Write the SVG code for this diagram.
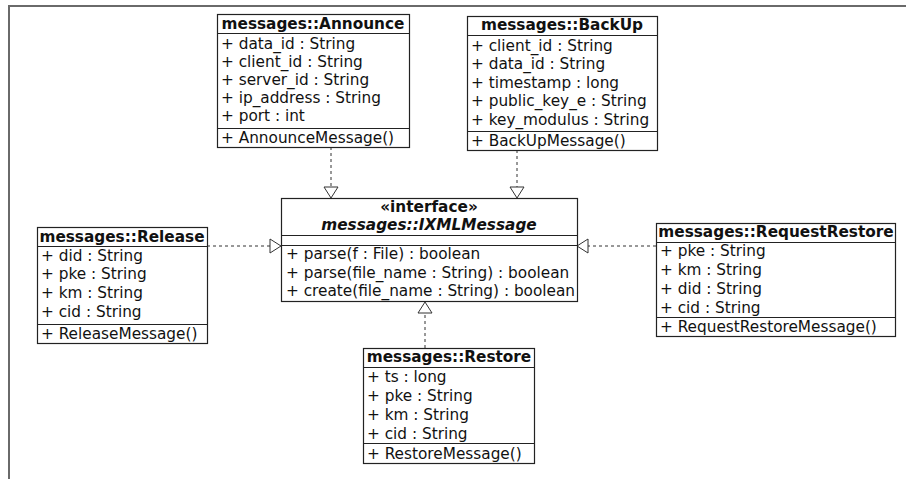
<svg xmlns="http://www.w3.org/2000/svg" width="906" height="479" viewBox="0 0 906 479">
  <style>
    .box { fill: #ffffff; stroke: #222222; stroke-width: 1.2; }
    .sep { stroke: #222222; stroke-width: 1.2; }
    text { font-family: "DejaVu Sans", "Liberation Sans", sans-serif; font-size: 15.3px; fill: #111111; }
    .title { font-weight: bold; text-anchor: middle; }
    .ital { font-style: italic; }
    .dep { fill: none; stroke: #333333; stroke-width: 1; stroke-dasharray: 3 3; }
    .head { fill: #ffffff; stroke: #333333; stroke-width: 1; }
    .frame { fill: none; stroke: #6a6a6a; stroke-width: 2; }
  </style>

  <rect x="0" y="0" width="906" height="479" fill="#ffffff"/>
  <polyline class="frame" points="9,479 9,6 906,6"/>

  <!-- realization connectors -->
  <g id="connectors">
    <line class="dep" x1="331" y1="147" x2="331" y2="187"/>
    <polygon class="head" points="331,198 324,187 338,187"/>

    <line class="dep" x1="517" y1="150" x2="517" y2="187"/>
    <polygon class="head" points="517,198 510,187 524,187"/>

    <line class="dep" x1="207" y1="246" x2="270" y2="246"/>
    <polygon class="head" points="281,246 270,239 270,253"/>

    <line class="dep" x1="656" y1="246" x2="588" y2="246"/>
    <polygon class="head" points="577,246 588,239 588,253"/>

    <line class="dep" x1="425" y1="348" x2="425" y2="313"/>
    <polygon class="head" points="425,302 418,313 432,313"/>
  </g>

  <!-- interface -->
  <g id="IXMLMessage">
    <rect class="box" x="281.5" y="198.5" width="296" height="103"/>
    <line class="sep" x1="281.5" y1="235.5" x2="577.5" y2="235.5"/>
    <line class="sep" x1="281.5" y1="245.5" x2="577.5" y2="245.5"/>
    <text class="title" x="429" y="212">«interface»</text>
    <text class="title ital" x="429" y="230">messages::IXMLMessage</text>
    <text x="286" y="259">+ parse(f : File) : boolean</text>
    <text x="286" y="278">+ parse(file_name : String) : boolean</text>
    <text x="286" y="296">+ create(file_name : String) : boolean</text>
  </g>

  <!-- Announce -->
  <g id="Announce">
    <rect class="box" x="217.5" y="14.5" width="192" height="133"/>
    <line class="sep" x1="217.5" y1="33.5" x2="409.5" y2="33.5"/>
    <line class="sep" x1="217.5" y1="128.5" x2="409.5" y2="128.5"/>
    <text class="title" x="313" y="29">messages::Announce</text>
    <text x="221" y="49">+ data_id : String</text>
    <text x="221" y="67">+ client_id : String</text>
    <text x="221" y="85">+ server_id : String</text>
    <text x="221" y="103">+ ip_address : String</text>
    <text x="221" y="121">+ port : int</text>
    <text x="221" y="143">+ AnnounceMessage()</text>
  </g>

  <!-- BackUp -->
  <g id="BackUp">
    <rect class="box" x="467.5" y="16.5" width="190" height="134"/>
    <line class="sep" x1="467.5" y1="35.5" x2="657.5" y2="35.5"/>
    <line class="sep" x1="467.5" y1="131.5" x2="657.5" y2="131.5"/>
    <text class="title" x="562" y="30">messages::BackUp</text>
    <text x="471" y="51">+ client_id : String</text>
    <text x="471" y="69">+ data_id : String</text>
    <text x="471" y="88">+ timestamp : long</text>
    <text x="471" y="106">+ public_key_e : String</text>
    <text x="471" y="125">+ key_modulus : String</text>
    <text x="471" y="146">+ BackUpMessage()</text>
  </g>

  <!-- Release -->
  <g id="Release">
    <rect class="box" x="37.5" y="227.5" width="170" height="116"/>
    <line class="sep" x1="37.5" y1="246.5" x2="207.5" y2="246.5"/>
    <line class="sep" x1="37.5" y1="324.5" x2="207.5" y2="324.5"/>
    <text class="title" x="122" y="242">messages::Release</text>
    <text x="41" y="261">+ did : String</text>
    <text x="41" y="279">+ pke : String</text>
    <text x="41" y="298">+ km : String</text>
    <text x="41" y="317">+ cid : String</text>
    <text x="41" y="339">+ ReleaseMessage()</text>
  </g>

  <!-- RequestRestore -->
  <g id="RequestRestore">
    <rect class="box" x="656.5" y="223.5" width="239" height="113"/>
    <line class="sep" x1="656.5" y1="242.5" x2="895.5" y2="242.5"/>
    <line class="sep" x1="656.5" y1="317.5" x2="895.5" y2="317.5"/>
    <text class="title" x="776" y="237">messages::RequestRestore</text>
    <text x="660" y="256">+ pke : String</text>
    <text x="660" y="275">+ km : String</text>
    <text x="660" y="294">+ did : String</text>
    <text x="660" y="313">+ cid : String</text>
    <text x="660" y="332">+ RequestRestoreMessage()</text>
  </g>

  <!-- Restore -->
  <g id="Restore">
    <rect class="box" x="363.5" y="348.5" width="171" height="115"/>
    <line class="sep" x1="363.5" y1="367.5" x2="534.5" y2="367.5"/>
    <line class="sep" x1="363.5" y1="443.5" x2="534.5" y2="443.5"/>
    <text class="title" x="449" y="362">messages::Restore</text>
    <text x="367" y="382">+ ts : long</text>
    <text x="367" y="401">+ pke : String</text>
    <text x="367" y="420">+ km : String</text>
    <text x="367" y="439">+ cid : String</text>
    <text x="367" y="459">+ RestoreMessage()</text>
  </g>
</svg>
